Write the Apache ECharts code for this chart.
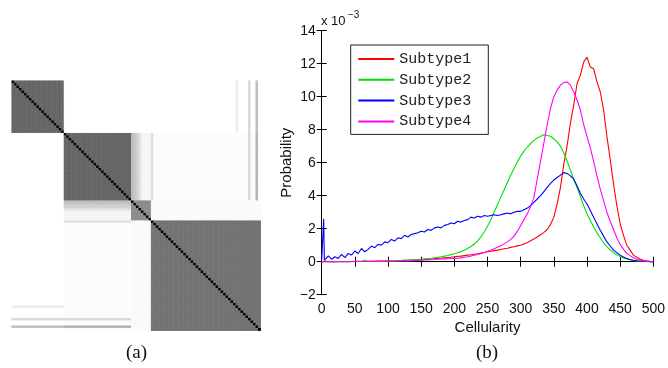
<!DOCTYPE html>
<html>
<head>
<meta charset="utf-8">
<script src="https://cdn.jsdelivr.net/npm/echarts@6/dist/echarts.min.js"></script>
<style>
  html, body { margin: 0; padding: 0; background: #fff; }
  #chart { width: 668px; height: 368px; }
</style>
</head>
<body>
<div id="chart"></div>
<script>
// (a) consensus matrix: sample groups and block similarity (0 = white, 1 = black)
const groupSizes = [21, 27, 8, 44];
const blockSim = [
  [0.60, 0, 0, 0],
  [0, 0.60, 0.04, 0.01],
  [0, 0.04, 0.45, 0.02],
  [0, 0.01, 0.02, 0.55]
];
// single samples with extra similarity to a group: [sample, group, value]
const sampleLinks = [
  [90, 0, 0.07], [95, 0, 0.15], [95, 1, 0.15],
  [98, 0, 0.25], [98, 1, 0.30], [56, 1, 0.12],
  [48, 1, 0.26], [49, 1, 0.22], [50, 1, 0.18], [51, 1, 0.12]
];

// (b) cellularity distributions, probability in units of 1e-3
const cellularity = [
  0, 5, 10, 15, 20, 25, 30, 35, 40, 45, 50, 55, 60, 65, 70, 75, 80, 85, 90, 95, 100,
  105, 110, 115, 120, 125, 130, 135, 140, 145, 150, 155, 160, 165, 170, 175, 180, 185, 190, 195, 200,
  205, 210, 215, 220, 225, 230, 235, 240, 245, 250, 255, 260, 265, 270, 275, 280, 285, 290, 295, 300,
  305, 310, 315, 320, 325, 330, 335, 340, 345, 350, 355, 360, 365, 370, 375, 380, 385, 390, 395, 400,
  405, 410, 415, 420, 425, 430, 435, 440, 445, 450, 455, 460, 465, 470, 475, 480, 485, 490, 495, 500
];
const subtype1 = [
  0, 0, 0, 0, 0, 0.01, 0.01, 0.01, 0.01, 0.01, 0.02, 0.02, 0.02, 0.02, 0.03, 0.03, 0.03, 0.04, 0.04, 0.04, 0.05,
  0.05, 0.06, 0.06, 0.07, 0.08, 0.09, 0.1, 0.1, 0.11, 0.12, 0.13, 0.15, 0.16, 0.18, 0.2, 0.21, 0.23, 0.25, 0.27, 0.3,
  0.32, 0.34, 0.37, 0.4, 0.42, 0.45, 0.48, 0.52, 0.56, 0.6, 0.63, 0.67, 0.7, 0.74, 0.78, 0.82, 0.87, 0.91, 0.96, 1.0,
  1.08, 1.17, 1.27, 1.38, 1.5, 1.63, 1.78, 1.95, 2.25, 2.7, 3.5, 4.5, 5.9, 7.0, 8.4, 9.5, 10.8, 11.3, 12.1, 12.4,
  11.8, 11.7, 10.9, 10.3, 9.2, 7.6, 6.2, 4.7, 3.4, 2.3, 1.6, 1.0, 0.7, 0.4, 0.27, 0.16, 0.09, 0.05, 0.02, 0
];
const subtype2 = [
  0, 0, 0, 0, 0, 0, 0, 0, 0, 0.01, 0.01, 0.01, 0.02, 0.08, 0.02, 0.02, 0.02, 0.03, 0.03, 0.03, 0.04,
  0.04, 0.05, 0.06, 0.07, 0.08, 0.09, 0.1, 0.12, 0.13, 0.15, 0.17, 0.19, 0.21, 0.24, 0.27, 0.3, 0.34, 0.38, 0.43, 0.48,
  0.54, 0.61, 0.7, 0.8, 0.92, 1.07, 1.25, 1.5, 1.8, 2.15, 2.55, 3.0, 3.45, 3.9, 4.35, 4.8, 5.25, 5.65, 6.05, 6.4,
  6.7, 6.95, 7.15, 7.35, 7.5, 7.6, 7.7, 7.65, 7.6, 7.45, 7.25, 7.0, 6.6, 6.1, 5.55, 5.0, 4.5, 3.95, 3.4, 2.9,
  2.5, 2.1, 1.75, 1.45, 1.15, 0.92, 0.72, 0.55, 0.42, 0.32, 0.23, 0.17, 0.12, 0.08, 0.05, 0.03, 0.02, 0.01, 0, 0
];
const subtype3 = [
  0.1, 0.12, 0.35, 0.15, 0.3, 0.2, 0.45, 0.25, 0.5, 0.4, 0.65, 0.5, 0.8, 0.6, 0.75, 0.95, 0.85, 1.05, 1.0, 1.2, 1.15,
  1.35, 1.25, 1.45, 1.4, 1.6, 1.5, 1.65, 1.7, 1.75, 1.85, 1.8, 1.95, 1.9, 2.05, 2.1, 2.05, 2.2, 2.25, 2.35, 2.3,
  2.45, 2.4, 2.5, 2.55, 2.7, 2.65, 2.75, 2.7, 2.8, 2.75, 2.8, 2.85, 2.8, 2.85, 2.9, 2.95, 2.9, 3.0, 3.05, 3.05,
  3.15, 3.25, 3.4, 3.6, 3.8, 4.0, 4.25, 4.5, 4.75, 4.95, 5.1, 5.25, 5.4, 5.35, 5.2, 5.0, 4.6, 4.15, 3.8, 3.5,
  3.1, 2.7, 2.3, 1.9, 1.55, 1.2, 0.95, 0.7, 0.55, 0.4, 0.28, 0.2, 0.13, 0.09, 0.06, 0.04, 0.02, 0.01, 0, 0
];
// narrow spike of subtype3 near zero cellularity: [x, y]
const subtype3Spike = [[2, 0.1], [3, 2.6], [4, 0.1]];
const subtype4 = [
  0, 0.05, 0, 0, 0, 0, 0, 0, 0, 0, 0.01, 0.01, 0.01, 0.01, 0.01, 0.01, 0.02, 0.02, 0.02, 0.02, 0.03,
  0.03, 0.03, 0.04, 0.04, 0.05, 0.05, 0.06, 0.07, 0.08, 0.09, 0.1, 0.11, 0.12, 0.13, 0.15, 0.16, 0.17, 0.18, 0.19, 0.2,
  0.21, 0.23, 0.27, 0.3, 0.34, 0.39, 0.44, 0.5, 0.56, 0.63, 0.7, 0.78, 0.87, 0.97, 1.08, 1.2, 1.35, 1.55, 1.85, 2.2,
  2.55, 2.9, 3.35, 3.9, 5.0, 6.1, 7.2, 8.3, 9.3, 10.0, 10.4, 10.7, 10.85, 10.9, 10.7, 10.3, 9.8, 9.2, 8.3, 7.6,
  6.9, 6.1, 5.2, 4.4, 3.7, 3.0, 2.45, 1.95, 1.45, 1.05, 0.75, 0.52, 0.37, 0.24, 0.15, 0.09, 0.05, 0.03, 0.01, 0
];
const subtypeNames = ['Subtype1', 'Subtype2', 'Subtype3', 'Subtype4'];
const subtypeColors = ['#ff0000', '#00e000', '#0000ff', '#ff00ff'];

// build matrix cells
const sampleGroup = [];
groupSizes.forEach((n, g) => { for (let k = 0; k < n; k++) sampleGroup.push(g); });
const N = sampleGroup.length;
const sim = sampleGroup.map((gi, i) => sampleGroup.map((gj, j) => (i === j ? 1 : blockSim[gi][gj])));
sampleLinks.forEach(([s, grp, v]) => {
  sampleGroup.forEach((g, j) => {
    if (g === grp && j !== s) { sim[s][j] = v; sim[j][s] = v; }
  });
});
const cells = [];
for (let i = 0; i < N; i++) for (let j = 0; j < N; j++) cells.push([j, i, sim[i][j]]);
const sampleIds = sampleGroup.map((_, i) => String(i));

const toPairs = (ys) => cellularity.map((x, i) => [x, ys[i]]);
const s3 = toPairs(subtype3).concat(subtype3Spike).sort((a, b) => a[0] - b[0]);
const lineData = [toPairs(subtype1), toPairs(subtype2), s3, toPairs(subtype4)];

const axisFont = 'Liberation Sans, Arial, sans-serif';
const minus = (v) => String(v).replace('-', '\u2212');

const chart = echarts.init(document.getElementById('chart'));
chart.setOption({
  animation: false,
  backgroundColor: '#fff',
  grid: [
    { left: 11.7, top: 80.7, width: 249, height: 250 },
    { left: 321.7, top: 30.7, width: 334.3, height: 264 }
  ],
  xAxis: [
    { gridIndex: 0, type: 'category', data: sampleIds, show: false },
    {
      gridIndex: 1, type: 'value', min: 0, max: 500, interval: 50, position: 'bottom',
      axisLine: { lineStyle: { color: '#000', width: 1 } },
      axisTick: { inside: true, length: 5, lineStyle: { color: '#000' } },
      axisLabel: { fontSize: 14, color: '#111', margin: 7, fontFamily: axisFont },
      splitLine: { show: false },
      name: 'Cellularity', nameLocation: 'middle', nameGap: 25,
      nameTextStyle: { fontSize: 15, color: '#111', fontFamily: axisFont }
    },
    {
      gridIndex: 1, type: 'value', min: 0, max: 500, interval: 50, position: 'top',
      axisLine: { lineStyle: { color: '#000', width: 1 } },
      axisTick: { inside: true, length: 5, lineStyle: { color: '#000' } },
      axisLabel: { show: false }, splitLine: { show: false }
    }
  ],
  yAxis: [
    { gridIndex: 0, type: 'category', data: sampleIds, inverse: true, show: false },
    {
      gridIndex: 1, type: 'value', min: -2, max: 14, interval: 2, position: 'left',
      axisLine: { show: true, lineStyle: { color: '#000', width: 1 } },
      axisTick: { show: true, inside: true, length: 5, lineStyle: { color: '#000' } },
      axisLabel: { fontSize: 14, color: '#111', margin: 6, fontFamily: axisFont, formatter: minus },
      splitLine: { show: false },
      name: 'Probability', nameLocation: 'middle', nameGap: 27,
      nameTextStyle: { fontSize: 15, color: '#111', fontFamily: axisFont }
    },
    {
      gridIndex: 1, type: 'value', min: -2, max: 14, interval: 2, position: 'right',
      axisLine: { show: true, lineStyle: { color: '#000', width: 1 } },
      axisTick: { show: true, inside: true, length: 5, lineStyle: { color: '#000' } },
      axisLabel: { show: false }, splitLine: { show: false }
    }
  ],
  visualMap: {
    show: false, seriesIndex: 0, min: 0, max: 1, dimension: 2,
    inRange: { color: ['#ffffff', '#000000'] }
  },
  legend: {
    data: subtypeNames,
    orient: 'vertical', left: 350.7, top: 45,
    icon: 'rect', itemWidth: 36, itemHeight: 2, itemGap: 2.8,
    padding: [5, 17, 4, 7.6],
    borderColor: '#222', borderWidth: 1, backgroundColor: '#fff',
    selectedMode: false,
    textStyle: { fontFamily: 'Liberation Mono, monospace', fontSize: 15, color: '#222', lineHeight: 18 }
  },
  graphic: [
    { type: 'text', x: 321, y: 15, style: { text: 'x 10', fontSize: 13, fontFamily: axisFont, fill: '#111' } },
    { type: 'text', x: 348, y: 10, style: { text: '\u22123', fontSize: 10, fontFamily: axisFont, fill: '#111' } },
    { type: 'text', x: 136.5, y: 353, style: { text: '(a)', fontSize: 19, fontFamily: 'Liberation Serif, serif', fill: '#111', align: 'center', verticalAlign: 'middle' } },
    { type: 'text', x: 487, y: 353, style: { text: '(b)', fontSize: 19, fontFamily: 'Liberation Serif, serif', fill: '#111', align: 'center', verticalAlign: 'middle' } }
  ],
  series: [
    {
      type: 'heatmap', xAxisIndex: 0, yAxisIndex: 0, data: cells,
      progressive: 0, itemStyle: { borderWidth: 0 }, emphasis: { disabled: true }
    }
  ].concat(subtypeNames.map((name, k) => ({
    name, type: 'line', xAxisIndex: 1, yAxisIndex: 1,
    data: lineData[k], showSymbol: false, symbol: 'none',
    color: subtypeColors[k],
    lineStyle: { width: 1.1, color: subtypeColors[k] }
  })))
});
</script>
</body>
</html>
